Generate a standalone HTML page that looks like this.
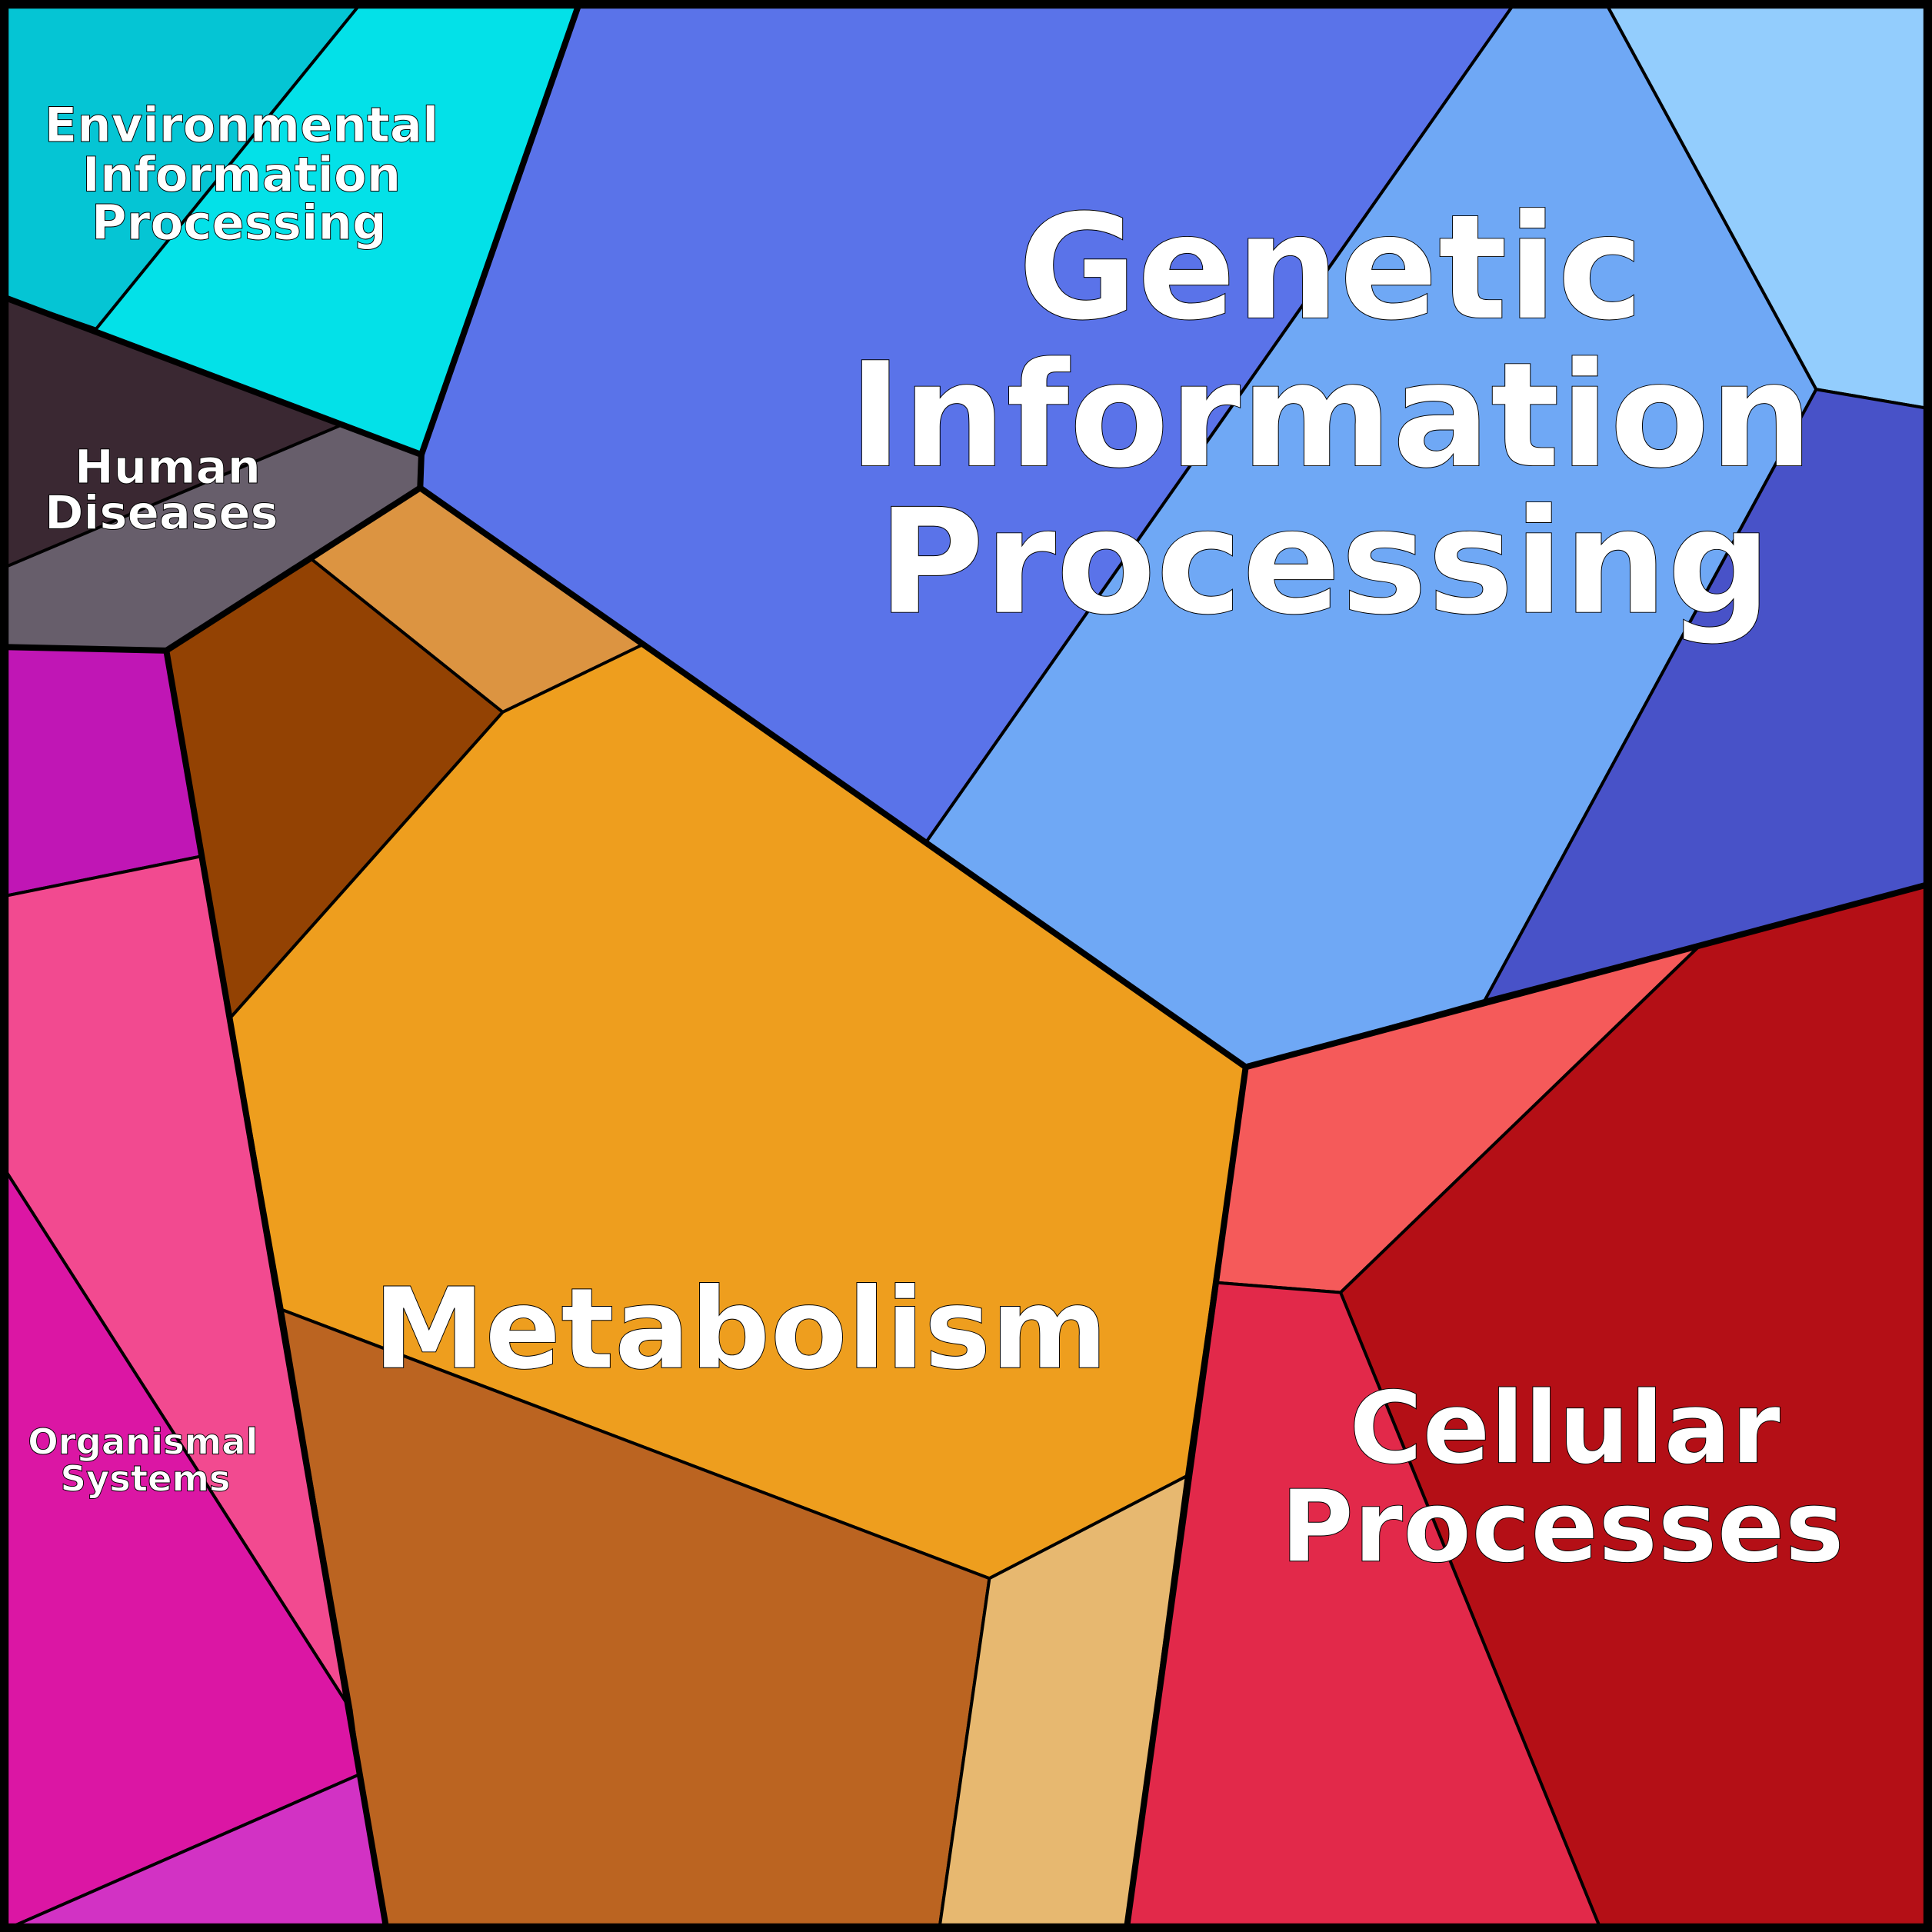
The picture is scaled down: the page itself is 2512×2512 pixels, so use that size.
<!DOCTYPE html>
<html><head><meta charset="utf-8"><style>
html,body{margin:0;padding:0;background:#fff}
svg{display:block}
text{font-family:"DejaVu Sans","Liberation Sans",sans-serif;font-weight:bold;fill:#fff;stroke:#000;stroke-width:0.6;text-anchor:middle}
</style></head><body>
<svg width="2512" height="2512" viewBox="0 0 1568 1568" xmlns="http://www.w3.org/2000/svg">
<g stroke="#000" stroke-width="2.5" stroke-linejoin="round">
<polygon fill="#03e1e8" points="0,0 471,0 342,369 0,240"/>
<polygon fill="#05c5d4" points="0,0 295,0 78,267 0,240"/>
<polygon fill="#675e6b" points="0,240 342,369 341,396 135,528 0,525"/>
<polygon fill="#3a2832" points="0,240 277,345 0,462"/>
<polygon fill="#5a73e9" points="471,0 1231,0 752,683 341,396 342,369"/>
<polygon fill="#6fa8f5" points="1231,0 1302,0 1474,316 1205,812 1011,866 752,683"/>
<polygon fill="#93cdfd" points="1302,0 1568,0 1568,332 1474,316"/>
<polygon fill="#4852c8" points="1474,316 1568,332 1568,717 1205,812"/>
<polygon fill="#dc9441" points="253,454 341,396 522,523 408,578"/>
<polygon fill="#934203" points="135,528 253,454 408,578 187,826"/>
<polygon fill="#ee9e1e" points="187,826 408,578 522,523 1011,866 963,1198 803,1281 229,1063"/>
<polygon fill="#bb6421" points="229,1063 803,1281 762,1568 314,1568"/>
<polygon fill="#e7b870" points="803,1281 963,1198 914,1568 762,1568"/>
<polygon fill="#f55a5a" points="1011,866 1380,767 1088,1049 988,1041"/>
<polygon fill="#b40f16" points="1380,767 1568,717 1568,1568 1300,1568 1088,1049"/>
<polygon fill="#e2294a" points="988,1041 1088,1049 1300,1568 914,1568"/>
<polygon fill="#c016b5" points="0,525 135,528 163,695 0,728"/>
<polygon fill="#f24a90" points="0,728 163,695 285,1388 0,943"/>
<polygon fill="#db16a4" points="0,943 285,1388 292,1440 0,1568"/>
<polygon fill="#d232c4" points="0,1568 292,1440 314,1568"/>
</g>
<g stroke="#000" stroke-width="5" fill="none" stroke-linejoin="round" stroke-linecap="round">
<polyline points="0,240 342,369 341,396 135,528 0,525"/>
<polyline points="471,0 342,369"/>
<polyline points="341,396 1011,866 914,1568"/>
<polyline points="135,528 314,1568"/>
<polyline points="1011,866 1568,717"/>
</g>
<rect x="3.5" y="3.5" width="1561" height="1561" fill="none" stroke="#000" stroke-width="7"/>
<text font-size="118" x="1080" y="258">Genetic</text>
<text font-size="118" x="1080" y="378">Information</text>
<text font-size="118" x="1075" y="497">Processing</text>
<text font-size="91" x="601" y="1110">Metabolism</text>
<text font-size="81" x="1270" y="1187">Cellular</text>
<text font-size="81" x="1268" y="1267">Processes</text>
<text font-size="39" x="196" y="115">Environmental</text>
<text font-size="39" x="196" y="155">Information</text>
<text font-size="39" x="194" y="194">Processing</text>
<text font-size="38" x="136" y="392">Human</text>
<text font-size="38" x="131" y="429">Diseases</text>
<text font-size="29" x="116" y="1180">Organismal</text>
<text font-size="29" x="118" y="1210">Systems</text>
</svg>
</body></html>
